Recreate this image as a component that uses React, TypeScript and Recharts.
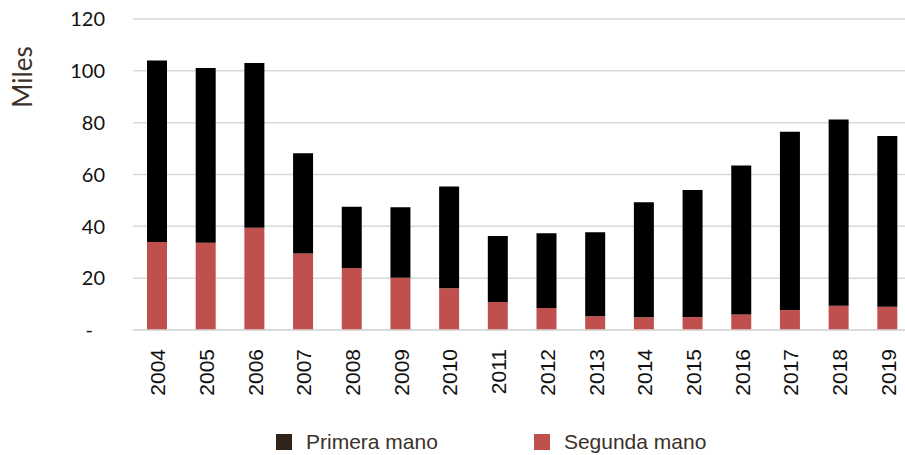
import { Bar, BarChart, CartesianGrid, XAxis, YAxis } from "recharts";

// Years on the category axis
const years = [
  "2004", "2005", "2006", "2007", "2008", "2009", "2010", "2011",
  "2012", "2013", "2014", "2015", "2016", "2017", "2018", "2019",
];

// Thousands of units (stacked)
const primeraMano = [
  70.0, 67.4, 63.5, 38.7, 23.7, 27.2, 39.3, 25.5,
  28.8, 32.4, 44.4, 49.0, 57.5, 68.8, 71.8, 65.9,
];
const segundaMano = [
  34.0, 33.7, 39.5, 29.5, 23.9, 20.2, 16.1, 10.8,
  8.5, 5.3, 4.9, 5.0, 6.0, 7.7, 9.4, 9.0,
];

const yTicks = [0, 20, 40, 60, 80, 100, 120];
const yTickLabels = ["-", "20", "40", "60", "80", "100", "120"];

const seriesNames = { primera: "Primera mano", segunda: "Segunda mano" };

const data = years.map((year, i) => ({
  year,
  primera: primeraMano[i],
  segunda: segundaMano[i],
}));

const RED = "#c0504d";
const BLACK = "#000000";
const LEGEND_DARK = "#30231a";
const TEXT_BROWN = "#3b3128";

const YTick = ({ y, payload }: any) => {
  const idx = yTicks.indexOf(payload.value);
  const label = yTickLabels[idx] ?? String(payload.value);
  const isDash = label === "-";
  return (
    <text
      x={isDash ? 93 : 105}
      y={y}
      dy="0.36em"
      textAnchor="end"
      fontFamily="Lato, 'Open Sans', sans-serif"
      fontSize={20}
      fill="#111"
    >
      {label}
    </text>
  );
};

const XTick = ({ x, y, payload }: any) => (
  <text
    x={x + 8}
    y={y + 17}
    transform={`rotate(-90, ${x + 8}, ${y + 17})`}
    textAnchor="end"
    fontFamily="'Liberation Sans', Arial, sans-serif"
    fontSize={21}
    fill="#111"
  >
    {payload.value}
  </text>
);

const MilesLabel = ({ viewBox }: any) => {
  const cx = viewBox.x + 22;
  const cy = viewBox.y + 58;
  return (
    <text
      x={cx}
      y={cy}
      transform={`rotate(-90, ${cx}, ${cy})`}
      textAnchor="middle"
      dominantBaseline="central"
      fontFamily="Lato, 'Open Sans', sans-serif"
      fontSize={26}
      fill={TEXT_BROWN}
    >
      Miles
    </text>
  );
};

const LegendItem = ({ color, label }: { color: string; label: string }) => (
  <div style={{ display: "flex", alignItems: "center" }}>
    <span
      style={{
        display: "inline-block",
        width: 16,
        height: 16,
        background: color,
        marginRight: 14,
      }}
    />
    <span>{label}</span>
  </div>
);

export default function App() {
  return (
    <div
      style={{
        position: "fixed",
        left: 0,
        top: 0,
        width: 905,
        height: 455,
        overflow: "hidden",
        background: "#fff",
      }}
    >
      <BarChart
        width={920}
        height={455}
        data={data}
        margin={{ top: 19, right: 8, bottom: 0, left: 0 }}
        barSize={20}
      >
        <CartesianGrid vertical={false} stroke="#d9d9d9" strokeWidth={1.5} />
        <XAxis
          dataKey="year"
          height={125}
          tickLine={false}
          tickSize={0}
          axisLine={{ stroke: "#d9d9d9", strokeWidth: 1.5 }}
          tick={<XTick />}
          interval={0}
        />
        <YAxis
          width={133}
          domain={[0, 120]}
          ticks={yTicks}
          tickLine={false}
          axisLine={false}
          tick={<YTick />}
          label={<MilesLabel />}
        />
        <Bar
          dataKey="segunda"
          name={seriesNames.segunda}
          stackId="a"
          fill={RED}
          isAnimationActive={false}
        />
        <Bar
          dataKey="primera"
          name={seriesNames.primera}
          stackId="a"
          fill={BLACK}
          isAnimationActive={false}
        />
      </BarChart>
      <div
        style={{
          position: "absolute",
          left: 276,
          top: 430,
          display: "flex",
          gap: 96,
          fontFamily: "'Liberation Sans', Arial, sans-serif",
          fontSize: 21,
          color: TEXT_BROWN,
          lineHeight: "24px",
        }}
      >
        <LegendItem color={LEGEND_DARK} label={seriesNames.primera} />
        <LegendItem color={RED} label={seriesNames.segunda} />
      </div>
    </div>
  );
}
